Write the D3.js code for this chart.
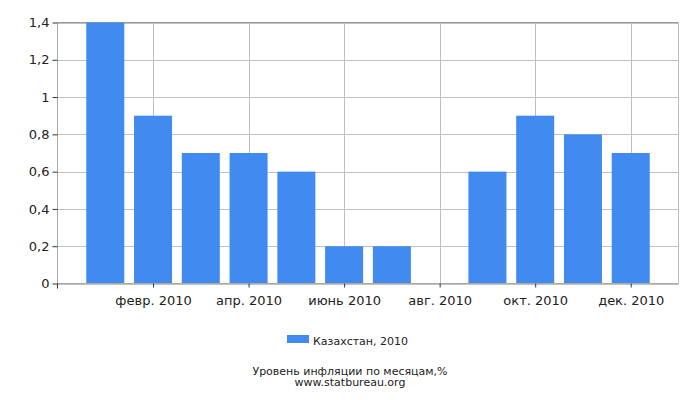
<!DOCTYPE html>
<html><head><meta charset="utf-8">
<script src="https://cdn.jsdelivr.net/npm/d3@7/dist/d3.min.js"></script>
<style>body{margin:0;background:#fff}svg{display:block}text{font-family:"DejaVu Sans",sans-serif}</style>
</head><body><svg id="c" width="700" height="400"></svg>
<script>
const months = ["2010-01","2010-02","2010-03","2010-04","2010-05","2010-06","2010-07","2010-08","2010-09","2010-10","2010-11","2010-12"];
const values = [1.4,0.9,0.7,0.7,0.6,0.2,0.2,0,0.6,0.9,0.8,0.7];
const monthLabels = ["янв.","февр.","март","апр.","май","июнь","июль","авг.","сент.","окт.","нояб.","дек."];
const yTicks = [0,0.2,0.4,0.6,0.8,1,1.2,1.4];
const seriesName = "Казахстан, 2010";
const title = "Уровень инфляции по месяцам,%";
const source = "www.statbureau.org";

const svg = d3.select("#c");
const L=57.5, R=678.5, T=22.5, B=283.5;
const x = d3.scalePoint().domain(months).range([L,R]).padding(1);
const y = d3.scaleLinear().domain([0,1.4]).range([B,T]);
const gridMonths = months.filter((d,i)=>i%2===1);
const label = m => monthLabels[+m.slice(5)-1]+" "+m.slice(0,4);

// grid
svg.append("g").selectAll("line").data(yTicks).join("line")
  .attr("x1",L).attr("x2",R).attr("y1",d=>Math.round(y(d))+0.5).attr("y2",d=>Math.round(y(d))+0.5)
  .attr("stroke","#c0c0c0").attr("stroke-width",1);
svg.append("g").selectAll("line").data(gridMonths).join("line")
  .attr("x1",d=>Math.round(x(d))+0.5).attr("x2",d=>Math.round(x(d))+0.5).attr("y1",T).attr("y2",B)
  .attr("stroke","#c0c0c0").attr("stroke-width",1);
// frame
svg.append("line").attr("x1",L).attr("x2",R).attr("y1",T).attr("y2",T).attr("stroke","#999");
svg.append("line").attr("x1",R).attr("x2",R).attr("y1",T).attr("y2",B).attr("stroke","#c0c0c0");

// bars
const bw = 38;
svg.append("g").selectAll("rect").data(values).join("rect")
  .attr("x",(d,i)=>x(months[i])-bw/2).attr("width",bw)
  .attr("y",d=>y(d)).attr("height",d=>B-y(d))
  .attr("fill","#418bf0");

// y axis
const fmt = d=>String(d).replace(".",",");
const ya = svg.append("g").attr("transform",`translate(${L},0)`)
  .call(d3.axisLeft(y).tickValues(yTicks).tickFormat(fmt).tickSize(5).tickPadding(3));
ya.select(".domain").attr("stroke","#aaa").attr("d",`M0,${T}V${B}`);
ya.selectAll(".tick line").attr("stroke","#333");
ya.selectAll("text").attr("font-size",13).attr("fill","#222").attr("font-family","DejaVu Sans");

// x axis
const xa = svg.append("g").attr("transform",`translate(0,${B})`)
  .call(d3.axisBottom(x).tickValues(gridMonths).tickFormat(label).tickSize(4).tickPadding(8));
xa.select(".domain").attr("stroke","#aaa").attr("d",`M${L},0H${R}`);
xa.selectAll(".tick line").attr("stroke","#333");
xa.selectAll("text").attr("font-size",13).attr("fill","#222").attr("font-family","DejaVu Sans");
svg.append("line").attr("x1",L).attr("x2",L).attr("y1",B).attr("y2",B+5).attr("stroke","#333");

// legend
svg.append("rect").attr("x",287).attr("y",335).attr("width",22).attr("height",8).attr("fill","#418bf0");
svg.append("text").attr("x",313).attr("y",345).attr("font-size",11).attr("fill","#222").text(seriesName);
svg.append("text").attr("x",350).attr("y",375).attr("text-anchor","middle").attr("font-size",11).attr("fill","#222").text(title);
svg.append("text").attr("x",350).attr("y",386).attr("text-anchor","middle").attr("font-size",11).attr("fill","#222").text(source);
</script></body></html>
